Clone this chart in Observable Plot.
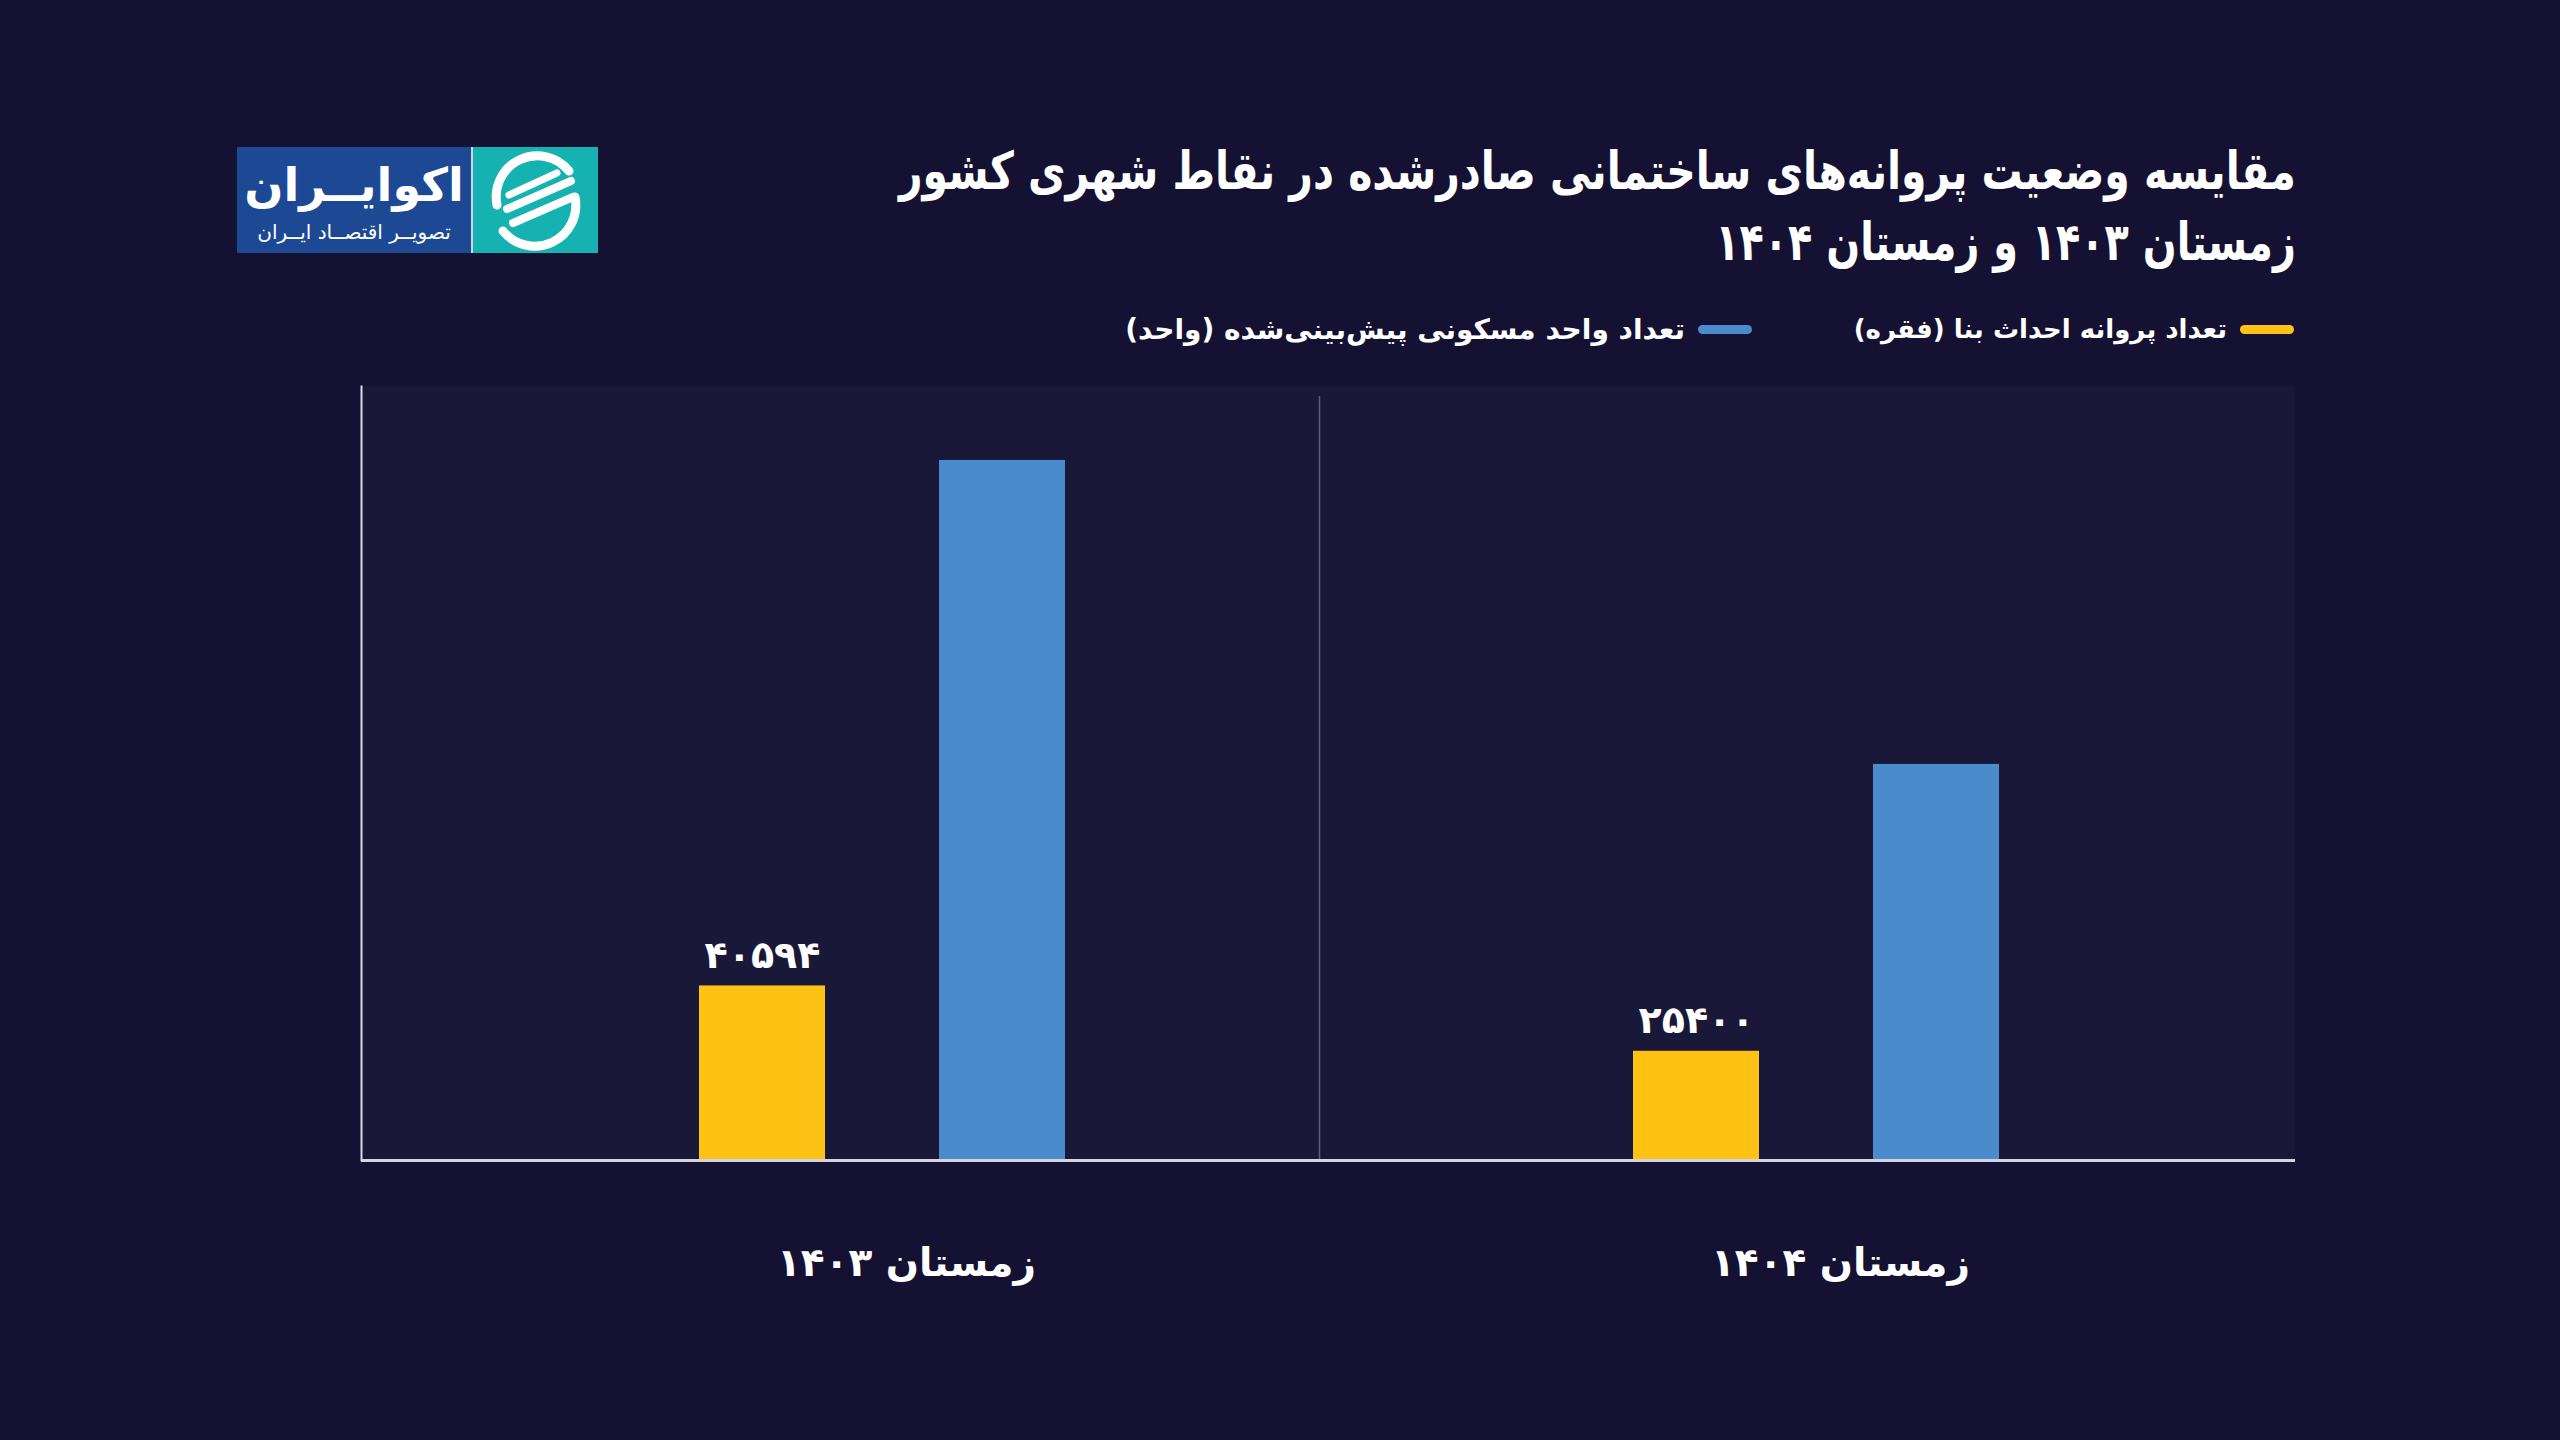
<!DOCTYPE html>
<html><head><meta charset="utf-8">
<script src="https://cdn.jsdelivr.net/npm/d3@7"></script>
<script src="https://cdn.jsdelivr.net/npm/@observablehq/plot@0.6"></script>
<style>
html,body{margin:0;padding:0;background:#141133;}
#wrap{position:relative;width:2560px;height:1440px;overflow:hidden;font-family:"DejaVu Sans",sans-serif;color:#fff;}
#title{position:absolute;right:264px;top:136px;direction:rtl;text-align:right;font-weight:bold;font-size:52px;line-height:71px;white-space:nowrap;}
#title div{transform-origin:right center;}
#title div:nth-child(1){transform:scaleX(0.787);}
#title div:nth-child(2){transform:scaleX(0.765);}
.item{position:absolute;top:309px;direction:rtl;display:flex;align-items:center;font-weight:bold;font-size:28px;white-space:nowrap;height:40px;}
.sw{width:54px;height:9px;border-radius:5px;margin-left:13px;}
#chart{position:absolute;left:0;top:360px;}
#logo{position:absolute;left:237px;top:147px;width:361px;height:106px;display:flex;}
#logo .blue{width:234px;height:106px;background:#1d4894;direction:rtl;text-align:center;position:relative;}
#logo .sep{width:2px;background:#cfd8e8;}
#logo .teal{width:125px;height:106px;background:#16b2b2;}
#logo .big{position:absolute;left:0;right:0;top:8px;font-size:46px;font-weight:bold;line-height:60px;}
#logo .small{position:absolute;left:0;right:0;top:72px;font-size:20px;line-height:26px;}
</style></head>
<body>
<div id="wrap">
  <div id="logo">
    <div class="blue"><div class="big">اکوایــران</div><div class="small">تصویــر اقتصــاد ایــران</div></div>
    <div class="sep"></div>
    <div class="teal">
      <svg width="125" height="106" viewBox="0 0 125 106">
        <g fill="none" stroke="#fff" stroke-linecap="round">
          <path d="M96 24 A41 41 0 0 0 24 58" stroke-width="9"/>
          <path d="M30 84 A41 41 0 0 0 102 50" stroke-width="9"/>
          <path d="M34 62 L98 34" stroke-width="8"/>
          <path d="M40 76 L100 50" stroke-width="8"/>
          <path d="M36 48 L84 26" stroke-width="7"/>
        </g>
      </svg>
    </div>
  </div>
  <div id="title"></div>
  <div id="leg0" class="item" style="right:266px"></div>
  <div id="leg1" class="item" style="right:808px"></div>
  <div id="chart"></div>
</div>
<script>
const titleLines = ["مقایسه وضعیت پروانه‌های ساختمانی صادرشده در نقاط شهری کشور", "زمستان ۱۴۰۳ و زمستان ۱۴۰۴"];
const seasons = ["زمستان ۱۴۰۳", "زمستان ۱۴۰۴"];
const permits = [40594, 25400];
const units = [162800, 92100];
const seriesLabels = ["تعداد پروانه احداث بنا (فقره)", "تعداد واحد مسکونی پیش‌بینی‌شده (واحد)"];
const seriesColors = ["#FDC214", "#4A8BCB"];

document.getElementById("title").innerHTML = titleLines.map(t => `<div>${t}</div>`).join("");
seriesLabels.forEach((l, i) => {
  document.getElementById("leg" + i).innerHTML = `<span class="sw" style="background:${seriesColors[i]}"></span><span${i === 0 ? ' style="font-size:26px"' : ''}>${l}</span>`;
});

const rows = seasons.map((s, i) => ({season: s, permits: permits[i], units: units[i]}));
const fa = v => v.toLocaleString("fa-IR", {useGrouping: false});

const chart = Plot.plot({
  width: 2560, height: 1080,
  marginTop: 26, marginBottom: 280, marginLeft: 361, marginRight: 265,
  style: {background: "transparent", color: "#fff", fontFamily: "DejaVu Sans, sans-serif", overflow: "visible"},
  x: {type: "band", domain: seasons, paddingInner: 0, paddingOuter: 0.0353, align: 0.5, label: null},
  y: {domain: [0, 180000], axis: null},
  marks: [
    Plot.frame({fill: "#1a1838", stroke: "none"}),
    Plot.ruleX([seasons[1]], {dx: -476, stroke: "#5d5b7e", strokeWidth: 1.5, insetTop: 10}),
    Plot.barY(rows, {x: "season", y: "permits", fill: seriesColors[0], insetLeft: 305, insetRight: 503}),
    Plot.barY(rows, {x: "season", y: "units", fill: seriesColors[1], insetLeft: 545, insetRight: 263}),
    Plot.text(rows, {x: "season", y: "permits", text: d => fa(d.permits), dx: -99, dy: -18, lineAnchor: "bottom", fill: "#fff", fontSize: 38, fontWeight: "bold"}),
    Plot.frame({anchor: "left", stroke: "#dcdce6", strokeWidth: 2}),
    Plot.ruleY([0], {stroke: "#d4d4de", strokeWidth: 3}),
    Plot.axisX({tickSize: 0, tickPadding: 88, fontSize: 39, fontWeight: "bold", fill: "#fff", dx: 45, label: null})
  ]
});
document.getElementById("chart").appendChild(chart);
</script>
</body></html>
